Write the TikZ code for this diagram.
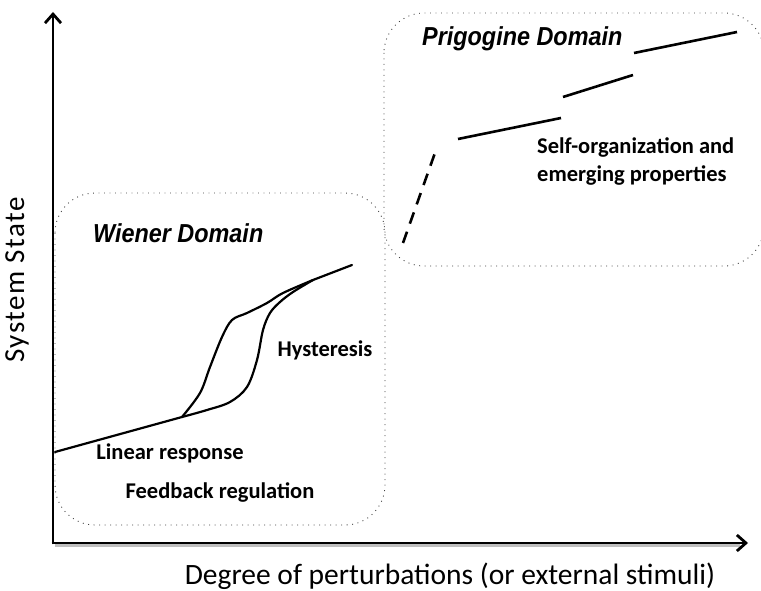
\documentclass[tikz,border=0pt]{standalone}
\usepackage{fontspec}
\setmainfont{Carlito}
\newfontfamily\domainfont{Liberation Sans}
\newfontfamily\spacedfont[LetterSpace=5]{Carlito}
\usetikzlibrary{arrows.meta}
\begin{document}
\begin{tikzpicture}[x=1pt,y=-1pt,
  axis/.style={line width=2.8pt,-{Straight Barb[length=9,width=16,line width=2.8pt]}},
  axisshadow/.style={line width=3pt,black!25},
  curve/.style={line width=2.2pt,line cap=round,line join=round},
  stepline/.style={line width=2.6pt},
  domainbox/.style={draw=black!75,line width=0.9pt,dash pattern=on 0.9pt off 4.6pt,rounded corners=40pt},
  domainlabel/.style={font=\domainfont\bfseries\itshape\fontsize{26}{30}\selectfont,anchor=base west,inner sep=0pt,xscale=0.9},
  note/.style={font=\bfseries\fontsize{22.5}{28}\selectfont,inner sep=0pt},
  axislabel/.style={font=\fontsize{29.5}{34}\selectfont,inner sep=0pt}]
\useasboundingbox (0,0) rectangle (761,591);
\begin{scope}
\clip (0,0) rectangle (761,591);
% domain frames
\draw[domainbox] (55,193) rectangle (385,525);
\draw[domainbox] (384,13) rectangle (764,266);
\end{scope}

% axes
\coordinate (origin) at (53,543);
\coordinate (ytip) at (53,12);
\coordinate (xtip) at (748,543);
\draw[axisshadow] (55,545) -- (740,545);
\draw[axis] (53,544.4) -- (ytip);
\draw[axis] (51.6,543) -- (xtip);

% response curve with hysteresis loop
\coordinate (start) at (55,452);
\coordinate (split) at (182,417);
\coordinate (merge) at (313,280);
\coordinate (finish) at (352,265);
\draw[curve] (start) -- (split);
\draw[curve] plot[smooth,tension=0.55] coordinates {(split) (200,393) (210,367) (222,337) (232,320) (247,313) (267,303) (283,293) (merge)};
\draw[curve] plot[smooth,tension=0.55] coordinates {(split) (207,410) (230,402) (247,387) (257,360) (263,330) (270,313) (280,302) (293,292) (merge)};
\draw[curve] (merge) -- (finish);

% stepwise branch
\coordinate (d1) at (403,243);
\coordinate (d2) at (436,150);
\draw[line width=2.6pt,dash pattern=on 12pt off 8.5pt] (d1) -- (d2);
\coordinate (s1a) at (458,139); \coordinate (s1b) at (561,118);
\coordinate (s2a) at (563,97);  \coordinate (s2b) at (633,75);
\coordinate (s3a) at (634,53);  \coordinate (s3b) at (737,32);
\draw[stepline] (s1a) -- (s1b);
\draw[stepline] (s2a) -- (s2b);
\draw[stepline] (s3a) -- (s3b);

% labels
\node[domainlabel] (wiener) at (93,242) {Wiener Domain};
\node[domainlabel] (prigogine) at (422,46) {Prigogine Domain};
\node[note] (hyst) at (325,350) {Hysteresis};
\node[note] (linear) at (170,453) {Linear response};
\node[note] (feedback) at (220,492) {Feedback regulation};
\node[note,anchor=west,align=left] (selforg) at (537,161) {Self-organization and\\emerging properties};
\node[axislabel,anchor=base] (xlabel) at (450,584) {Degree of perturbations (or external stimuli)};
\node[axislabel,font=\spacedfont\fontsize{29}{34}\selectfont,rotate=90] (ylabel) at (17,280) {System State};
\end{tikzpicture}
\end{document}
